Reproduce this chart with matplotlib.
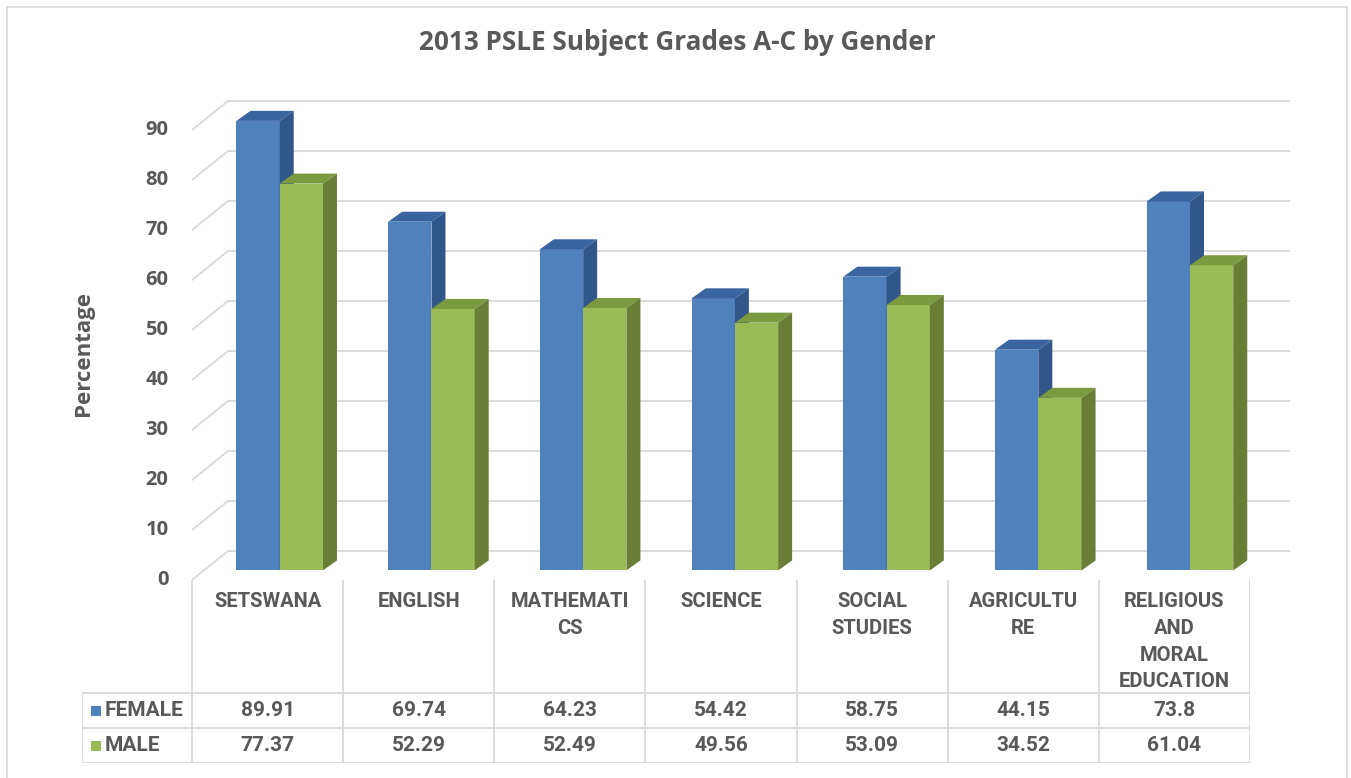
import matplotlib
matplotlib.use("Agg")
import matplotlib.pyplot as plt
from matplotlib.patches import Polygon, Rectangle
from matplotlib.lines import Line2D

# ---------------- data ----------------
categories = ["SETSWANA", "ENGLISH", "MATHEMATI\nCS", "SCIENCE", "SOCIAL\nSTUDIES",
              "AGRICULTU\nRE", "RELIGIOUS\nAND\nMORAL\nEDUCATION"]
female = [89.91, 69.74, 64.23, 54.42, 58.75, 44.15, 73.8]
male = [77.37, 52.29, 52.49, 49.56, 53.09, 34.52, 61.04]
female_labels = ["89.91", "69.74", "64.23", "54.42", "58.75", "44.15", "73.8"]
male_labels = ["77.37", "52.29", "52.49", "49.56", "53.09", "34.52", "61.04"]
series_names = ["FEMALE", "MALE"]
yticks = list(range(0, 91, 10))
title = "2013 PSLE Subject Grades A-C by Gender"
ylabel = "Percentage"

# ---------------- style ----------------
W_PX, H_PX, DPI = 1351, 778, 100
TXT = "#595959"
GRID = "#D9D9D9"
F_FRONT, F_SIDE, F_TOP = "#4F81BD", "#30568A", "#3A64A0"
M_FRONT, M_SIDE, M_TOP = "#9BBB59", "#6A7E36", "#7B9A3F"
TFONT = ["Open Sans", "DejaVu Sans"]
CFONT = ["Roboto", "DejaVu Sans"]

fig = plt.figure(figsize=(W_PX / DPI, H_PX / DPI), dpi=DPI)
fig.patch.set_facecolor("white")


def fx(px):
    return px / W_PX


def fy(py):
    return 1 - py / H_PX


# outer chart border
fig.patches.append(Rectangle((fx(7), fy(800)), fx(1347) - fx(7), fy(7) - fy(800),
                             transform=fig.transFigure, fill=False,
                             edgecolor=GRID, lw=1.2, clip_on=False))

# ---------------- 3D-ish plot area ----------------
n = len(categories)
L, R, T, B = 192, 1290, 100, 580
ppu = (R - L - 36) / n
DX = 36 / ppu          # floor depth in category units
DY = 29 / 5.0          # floor depth in value units (5 px per unit)
F = 0.33               # depth position of bars
SDX = 14 / ppu         # bar depth
SDY = 10 / 5.0
BW = 0.285

ax = fig.add_axes([fx(L), fy(B), fx(R) - fx(L), fy(T) - fy(B)])
ax.set_xlim(-0.5, n - 0.5 + DX)
ax.set_ylim(0, 96)
for s in ax.spines.values():
    s.set_visible(False)
ax.set_xticks([])
ax.set_yticks(yticks)
ax.set_yticklabels([str(v) for v in yticks], fontsize=14.5, fontweight="bold",
                   color=TXT, family=TFONT)
ax.tick_params(axis="y", length=0, pad=17)
for lab in ax.get_yticklabels():
    lab.set_verticalalignment("center")

# back wall gridlines + left wall diagonals
for v in yticks:
    ax.plot([-0.5 + DX, n - 0.5 + DX], [v + DY, v + DY], color=GRID, lw=1.3,
            zorder=1, solid_capstyle="butt")
    ax.plot([-0.5, -0.5 + DX], [v, v + DY], color=GRID, lw=1.3, zorder=1)


def bar3d(x0, h, front, side, top, z):
    bottom = F * DY
    x1 = x0 + BW
    ax.bar(x0, h, width=BW, bottom=bottom, align="edge", color=front,
           linewidth=0, zorder=z)
    ax.add_patch(Polygon([(x0, bottom + h), (x0 + SDX, bottom + h + SDY),
                          (x1 + SDX, bottom + h + SDY), (x1, bottom + h)],
                         closed=True, facecolor=top, lw=0, zorder=z))
    ax.add_patch(Polygon([(x1, bottom), (x1 + SDX, bottom + SDY),
                          (x1 + SDX, bottom + h + SDY), (x1, bottom + h)],
                         closed=True, facecolor=side, lw=0, zorder=z))


for i in range(n):
    c = i + F * DX
    bar3d(c - BW, female[i], F_FRONT, F_SIDE, F_TOP, 3 + 2 * i)
    bar3d(c, male[i], M_FRONT, M_SIDE, M_TOP, 4 + 2 * i)

# ---------------- title & axis label ----------------
fig.text(fx(677), fy(43), title, ha="center", va="center", fontsize=18.8,
         fontweight="bold", color=TXT, family=TFONT)
fig.text(fx(84), fy(354), ylabel, ha="center", va="center", rotation=90,
         fontsize=16, fontweight="bold", color=TXT, family=TFONT)

# ---------------- data table ----------------
TL, TR, TT, TB = 82, 1250, 580, 763
tppu = (TR - L) / n
tax = fig.add_axes([fx(TL), fy(TB), fx(TR) - fx(TL), fy(TT) - fy(TB)])
xl = -0.5 - (L - TL) / tppu
tax.set_xlim(xl, n - 0.5)
tax.set_ylim(0, TB - TT)
tax.axis("off")
row1, row2 = 35, 70   # row boundaries (px above table bottom)
for yv in [0, row1, row2]:
    tax.add_line(Line2D([xl, n - 0.5], [yv, yv], color=GRID, lw=1.3))
for k in range(n + 1):
    tax.add_line(Line2D([k - 0.5, k - 0.5], [0, TB - TT], color=GRID, lw=1.3))
tax.add_line(Line2D([xl, xl], [0, row2], color=GRID, lw=1.3))

hdr_top = TB - TT - 12
for i, cat in enumerate(categories):
    tax.text(i, hdr_top, cat, ha="center", va="top", fontsize=14.5,
             fontweight="bold", color=TXT, family=CFONT, linespacing=1.52,
             multialignment="center")
    tax.text(i, (row1 + row2) / 2, female_labels[i], ha="center", va="center",
             fontsize=15, fontweight="bold", color=TXT, family=CFONT)
    tax.text(i, row1 / 2, male_labels[i], ha="center", va="center",
             fontsize=15, fontweight="bold", color=TXT, family=CFONT)

# legend keys in the table
for name, col, yc in [(series_names[0], F_FRONT, (row1 + row2) / 2),
                      (series_names[1], M_FRONT, row1 / 2)]:
    kx = xl + 9 / tppu
    tax.add_patch(Rectangle((kx, yc - 5), 10 / tppu, 10, facecolor=col, lw=0))
    tax.text(kx + 14 / tppu, yc, name, ha="left", va="center", fontsize=15,
             fontweight="bold", color=TXT, family=CFONT)

fig.savefig("out.png", dpi=DPI, facecolor="white")
